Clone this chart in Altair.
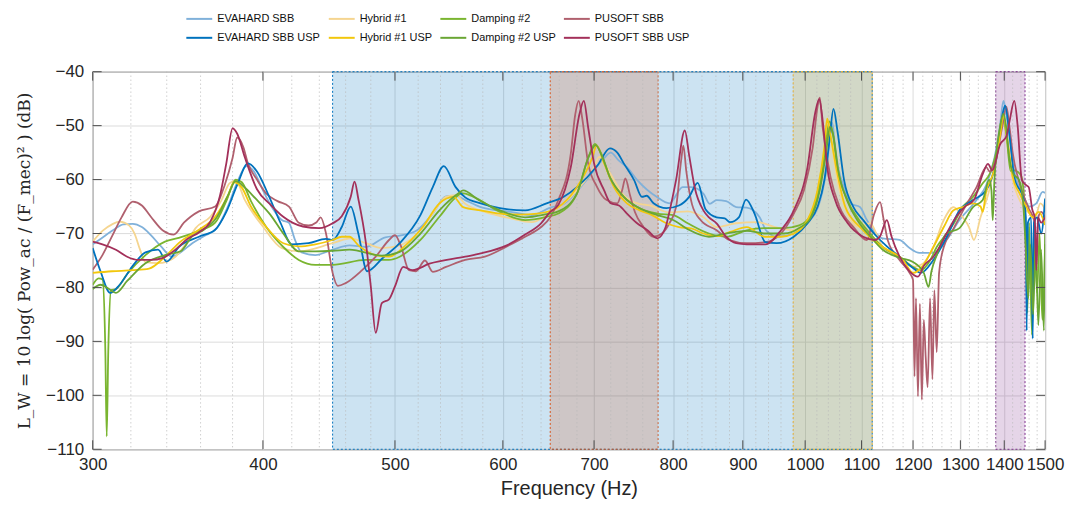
import altair as alt
import pandas as pd

# ---------------- data (frequency Hz, level dB) ----------------
EVAHARD_SBB = [(300,-72),(304,-71),(310,-69.5),(316,-68.3),(321,-68.2),(326,-68.8),(331,-70.3),(337,-72.5),(343,-74.3),(348,-73.5),(355,-71.8),(362,-70.5),(370,-69),(377,-65),(383,-60.5),(389,-57.5),(394,-58.5),(400,-62),(407,-65.5),(413,-67.5),(418,-68),(422,-71),(427,-73.5),(437,-74),(450,-73),(463,-72.2),(476,-72.5),(492,-70.7),(504,-70.4),(519,-69.4),(533,-66.3),(545,-63.1),(554,-63),(563,-63.8),(578,-65.1),(608,-66),(630,-66.6),(650,-65.2),(665,-64.5),(691,-60.1),(712,-56),(720,-55),(730,-56.5),(740,-57.7),(753,-60.1),(778,-63.2),(795,-64.4),(813,-61.4),(825,-61.4),(842,-62.6),(851,-64.5),(861,-63.8),(875,-64),(890,-65.1),(906,-65.2),(926,-67),(936,-69.4),(953,-70.6),(981,-70),(1004,-68.1),(1026,-63.8),(1038,-57),(1044,-50.9),(1047,-49.5),(1051,-53),(1058,-58),(1068,-61.4),(1080,-64.5),(1097,-65.1),(1110,-67.5),(1140,-70.9),(1173,-71.2),(1193,-72.7),(1213,-73.6),(1242,-73.6),(1270,-71.2),(1298,-67.5),(1336,-63.8),(1358,-61),(1377,-56),(1390,-50),(1398,-45.4),(1405,-48),(1412,-51),(1422,-57.7),(1447,-63.2),(1461,-65),(1478,-64.4),(1494,-62.3),(1500,-62.5)]

EVAHARD_SBB_USP = [(300,-72.7),(304,-77),(309,-81),(314,-79.5),(321,-76),(328,-73.5),(335,-73),(340,-75.2),(347,-72.5),(359,-70.6),(369,-69.3),(376,-66),(383,-61),(390,-57),(396,-58.5),(404,-63),(412,-68),(420,-72),(432,-71.8),(445,-71),(450,-71.2),(457,-68.8),(464,-65),(470,-70),(477,-77),(490,-74.5),(504,-71.8),(522,-66.6),(533,-61.4),(543,-57.5),(554,-61.4),(563,-63.3),(578,-64.4),(597,-65.3),(623,-65.7),(646,-64.4),(665,-63.2),(680,-61.4),(704,-57.4),(719,-54.2),(728,-55),(736,-57),(749,-60.1),(759,-63.2),(765,-63),(774,-64.4),(791,-65.3),(808,-64.8),(822,-63.2),(834,-60.6),(845,-65.5),(861,-67),(873,-67.2),(881,-67.9),(894,-67),(905,-63.7),(918,-66.3),(935,-71.6),(953,-71.8),(981,-70.6),(1004,-68.1),(1021,-65.1),(1033,-60.1),(1042,-52.8),(1049,-46.9),(1056,-50.9),(1068,-60.1),(1085,-65.1),(1103,-67.5),(1129,-70.6),(1146,-72.2),(1173,-74.3),(1200,-76.4),(1216,-77.3),(1242,-74.9),(1270,-70.7),(1298,-65.7),(1328,-63.8),(1358,-62),(1381,-56.4),(1398,-47.2),(1402,-46.3),(1413,-52.2),(1424,-59.6),(1447,-63.8),(1452,-67),(1454,-88),(1457,-68),(1465,-67),(1469,-89.5),(1472,-68),(1480,-67),(1490,-70),(1500,-63.5)]

HYBRID_1 = [(300,-71.5),(305,-69.5),(310,-68.3),(314,-67.8),(319,-68.5),(322,-70),(325,-73),(328,-75.3),(335,-75.5),(340,-75.2),(345,-74.3),(352,-71.5),(357,-69),(366,-66.9),(373,-63.8),(378,-60.7),(382,-60.2),(388,-63.8),(400,-68.7),(413,-72.7),(425,-73.3),(450,-71.8),(464,-70.9),(476,-71.8),(489,-72.7),(504,-72.2),(522,-69.4),(533,-66.3),(545,-63.2),(554,-62.9),(563,-64.5),(582,-66),(608,-67.2),(630,-67.9),(646,-66.6),(659,-65.2),(680,-62),(700,-57.7),(706,-55.8),(712,-57),(724,-60.1),(736,-62.9),(753,-64.4),(769,-64.8),(795,-66.1),(820,-65.9),(842,-67),(861,-68.8),(890,-68.1),(922,-67.9),(950,-68.8),(981,-69.4),(1010,-67),(1026,-60.1),(1034,-54),(1040,-49.6),(1045,-52.7),(1056,-60.1),(1074,-66.3),(1097,-68.8),(1116,-68.1),(1130,-70.5),(1140,-72.5),(1173,-74.3),(1200,-76.2),(1220,-75.6),(1242,-72.5),(1264,-67.5),(1285,-65.1),(1305,-67),(1319,-68.8),(1330,-71.2),(1345,-67),(1363,-62.6),(1383,-55),(1398,-48.5),(1408,-54),(1420,-60),(1437,-63.8),(1461,-66.3),(1475,-67),(1488,-64.4),(1500,-65.5)]

HYBRID_1_USP = [(300,-77.3),(310,-77),(321,-76.8),(330,-76.5),(339,-74.3),(348,-71.5),(359,-69.3),(369,-66.9),(377,-63),(381,-60.5),(386,-61.5),(392,-65),(402,-68.7),(414,-71.8),(425,-72.4),(437,-72),(450,-71.2),(457,-70.6),(463,-70.6),(470,-72.2),(484,-74),(495,-74.3),(509,-72.2),(524,-68.8),(539,-64.4),(552,-63.2),(561,-65.1),(578,-65.7),(597,-66.3),(617,-66.5),(636,-66.3),(657,-65.3),(680,-61.4),(698,-55.9),(703,-53.7),(712,-57),(724,-61.4),(740,-64.4),(756,-65.7),(772,-66.6),(791,-68.1),(808,-68.8),(826,-69.1),(842,-70),(861,-70.5),(881,-69.7),(906,-68.8),(934,-70.6),(960,-70.6),(981,-70),(1004,-67.5),(1021,-62),(1033,-54),(1038,-48.7),(1043,-51.4),(1056,-58.9),(1070,-65),(1097,-68.8),(1122,-71.2),(1140,-72.5),(1180,-74.9),(1200,-77.3),(1220,-76),(1242,-72.5),(1264,-68.8),(1285,-65.7),(1305,-65.1),(1328,-64.4),(1345,-65),(1350,-66),(1357,-62.6),(1376,-58.3),(1390,-52),(1398,-48.2),(1408,-53),(1420,-59.4),(1437,-62.6),(1453,-65),(1469,-67),(1484,-66),(1500,-68.4)]

DAMPING_2 = [(300,-79.5),(303,-78.3),(305,-78.5),(306.5,-92),(307.2,-107.6),(308,-92),(309.5,-80.5),(312,-80.3),(318,-77.5),(328,-74),(339,-71.5),(347,-70.8),(359,-69.5),(369,-68),(376,-64),(382,-60),(386,-60.5),(392,-64),(402,-68.7),(414,-72.5),(425,-74.9),(437,-75.8),(450,-75.8),(476,-74.9),(495,-74.9),(504,-74.3),(522,-71.2),(539,-66.9),(554,-63.3),(560,-62.5),(570,-63.1),(597,-66),(623,-67.5),(646,-66.9),(659,-66.3),(680,-62.6),(693,-56),(701,-53.4),(708,-55),(719,-59.6),(736,-63.2),(753,-65.1),(779,-66.3),(800,-66.6),(820,-68.1),(850,-70),(875,-70.6),(906,-69.4),(935,-69),(965,-69),(990,-68.5),(1010,-66.5),(1025,-61),(1035,-54),(1042,-49.2),(1048,-51.5),(1056,-57.7),(1074,-63.8),(1092,-67),(1116,-70),(1140,-72.5),(1173,-74.3),(1200,-76.2),(1216,-76.8),(1235,-75),(1249,-72.5),(1264,-70.7),(1285,-68.2),(1305,-65.1),(1328,-63.2),(1350,-60.7),(1368,-58.6),(1385,-53.5),(1395,-48.5),(1405,-51.6),(1415,-58.4),(1424,-58.3),(1440,-59.2),(1450,-66),(1456,-84.7),(1460,-68),(1467,-88.8),(1472,-70),(1480,-81),(1486,-70),(1493,-86),(1500,-72)]

DAMPING_2_USP = [(300,-80.3),(304,-79.5),(308,-80.2),(312,-81),(318,-78.8),(328,-75.5),(339,-74),(348,-73.3),(355,-70.5),(362,-69.3),(370,-67),(377,-63),(382,-60.3),(388,-61.5),(395,-63.5),(405,-66.5),(414,-70),(425,-73.3),(437,-73.3),(450,-73.2),(463,-73),(489,-74.1),(504,-73.4),(522,-70),(539,-65.7),(557,-62.5),(561,-62),(576,-63.8),(597,-65.7),(623,-67),(646,-66.4),(659,-65.9),(680,-62.6),(693,-56),(702,-53.6),(709,-55.5),(719,-59.6),(736,-63.2),(753,-65.1),(779,-66.6),(800,-67.5),(820,-69.2),(850,-70.6),(875,-70),(906,-69.5),(935,-70),(965,-70),(990,-69),(1010,-67),(1025,-62),(1036,-55),(1043,-50.2),(1049,-52),(1057,-58),(1074,-64),(1092,-67.5),(1116,-70.5),(1140,-73),(1173,-74.5),(1200,-75.3),(1222,-77.3),(1232,-79.9),(1238,-77),(1249,-74),(1270,-70),(1298,-69),(1328,-65.1),(1350,-63.8),(1365,-60),(1370,-62),(1373,-67.5),(1377,-60),(1390,-50.3),(1398,-47.8),(1404,-50),(1412,-56),(1422,-59),(1435,-60),(1445,-64),(1452,-73),(1458,-82),(1463,-72),(1470,-85),(1476,-72),(1483,-87),(1490,-73),(1497,-88),(1500,-70)]

PUSOFT_SBB = [(300,-76.7),(305,-74),(310,-70.5),(315,-67),(321,-64.1),(326,-64.8),(331,-66.9),(338,-69.5),(344,-70.2),(350,-68),(354,-66.9),(359,-65.9),(369,-65),(375,-61),(380,-56),(383,-52.2),(387,-54),(390,-57),(396,-60),(402,-62.5),(410,-64),(418,-65),(425,-68),(432,-68.5),(438,-67.9),(441,-67),(445,-70),(450,-77.3),(454,-79.7),(460,-79.2),(473,-76.8),(484,-74.3),(495,-71.2),(500,-70.3),(505,-72.3),(512,-76.8),(518,-77),(526,-75),(533,-77.1),(545,-76.2),(563,-74.9),(582,-74.3),(604,-72.4),(623,-70.6),(640,-68.8),(650,-67),(659,-63.8),(673,-55.2),(678,-48),(682,-45.4),(686,-48.5),(693,-57),(703,-61.2),(715,-63.8),(728,-64.4),(734,-62),(738,-59.8),(744,-63),(750,-66),(761,-68.8),(774,-70.6),(785,-70),(795,-68.1),(804,-65.1),(811,-56.4),(814,-53.7),(818,-58.4),(826,-64.6),(838,-67.5),(861,-69.4),(880,-71.2),(906,-71.8),(935,-71.6),(960,-70),(981,-66.3),(998,-62),(1013,-54),(1021,-46.6),(1025,-44.8),(1030,-50.3),(1044,-59.6),(1060,-65.1),(1085,-68.8),(1110,-71.2),(1124,-66.3),(1135,-64.2),(1142,-67.5),(1150,-71.3),(1173,-74.9),(1193,-77.3),(1200,-78.6),(1203,-96.5),(1206,-82),(1210,-100.2),(1214,-83),(1218,-100.8),(1222,-86),(1226,-93),(1230,-98.5),(1235,-82),(1240,-97),(1244,-80.5),(1249,-92),(1254,-77.3),(1264,-72.5),(1285,-69.1),(1310,-65.1),(1336,-61.4),(1358,-57.7),(1366,-58.5),(1380,-56.4),(1395,-50.3),(1405,-46.5),(1412,-50),(1420,-55),(1440,-61.5),(1460,-65.5),(1472,-67.5),(1478,-76),(1483,-67),(1490,-66),(1500,-67)]

PUSOFT_SBB_USP = [(300,-71.5),(305,-72),(312,-73),(318,-74.3),(324,-74.9),(331,-74.9),(338,-74.5),(345,-73),(352,-71),(359,-69.8),(366,-67.8),(372,-63),(376,-57),(380,-50.5),(383,-51.5),(388,-55.9),(396,-61.8),(405,-64.6),(414,-66.9),(428,-68.7),(440,-69),(450,-68.1),(457,-66.8),(464,-63.2),(467,-60.4),(470,-63.6),(476,-71.7),(480,-79.8),(484,-88.4),(489,-82.9),(495,-82.2),(500,-79.8),(507,-76.2),(515,-76.8),(530,-75.6),(563,-74.3),(578,-73.7),(604,-72.2),(623,-70.2),(640,-68.1),(650,-66),(659,-64.7),(673,-57.7),(683,-47.8),(688,-45.4),(693,-50.3),(700,-57),(712,-62),(720,-64.4),(730,-64.8),(740,-66.3),(752,-68),(766,-69.4),(779,-70.9),(790,-68.8),(795,-66),(804,-60.1),(816,-50.9),(822,-55.5),(830,-61.6),(842,-65.7),(850,-67),(861,-68.1),(875,-70.6),(890,-71.8),(906,-72),(935,-72),(960,-69.4),(981,-65.7),(1004,-57.7),(1017,-47.7),(1024,-45.1),(1030,-49),(1038,-57.7),(1052,-63.8),(1074,-68),(1103,-70.6),(1125,-71.2),(1135,-70.5),(1148,-67.5),(1157,-70.5),(1173,-74.3),(1193,-77),(1210,-78),(1222,-76),(1242,-74.3),(1255,-72.5),(1270,-70),(1290,-67),(1310,-65),(1330,-63.8),(1350,-59),(1362,-57.1),(1372,-58.3),(1390,-53.5),(1405,-52),(1413,-49),(1424,-45.4),(1432,-50),(1442,-60),(1452,-61),(1459,-61.4),(1468,-65.6),(1474,-67),(1478,-76.8),(1482,-67),(1490,-68),(1500,-67)]

SERIES_NAMES = ["EVAHARD SBB", "Hybrid #1", "Damping #2", "PUSOFT SBB",
                "EVAHARD SBB USP", "Hybrid #1 USP", "Damping #2 USP", "PUSOFT SBB USP"]
SERIES_DATA = [EVAHARD_SBB, HYBRID_1, DAMPING_2, PUSOFT_SBB,
               EVAHARD_SBB_USP, HYBRID_1_USP, DAMPING_2_USP, PUSOFT_SBB_USP]
SERIES_COLORS = ["#80b1da", "#f5d590", "#7ab530", "#b0606e",
                 "#0072bd", "#f2c70c", "#6aa634", "#a3305a"]
DRAW_ORDER = ["EVAHARD SBB", "EVAHARD SBB USP", "Hybrid #1", "Hybrid #1 USP",
              "Damping #2", "Damping #2 USP", "PUSOFT SBB", "PUSOFT SBB USP"]

# shaded frequency bands
BAND_START = [450, 650, 980, 1380]
BAND_END = [1120, 780, 1120, 1450]
BAND_COLOR = ["#0072bd", "#d95319", "#edb120", "#7e2f8e"]

X_TICKS = [300, 400, 500, 600, 700, 800, 900, 1000, 1100, 1200, 1300, 1400, 1500]
MINOR_TICKS = [f for f in range(320, 1500, 20) if f % 100 != 0]
Y_TICKS = [-110, -100, -90, -80, -70, -60, -50, -40]

# ---------------- build tables ----------------
rows = []
for name, pts in zip(SERIES_NAMES, SERIES_DATA):
    for i, (f, v) in enumerate(pts):
        rows.append({"series": name, "freq": f, "db": v, "idx": i,
                     "z": DRAW_ORDER.index(name)})
lines_df = pd.DataFrame(rows)
bands_df = pd.DataFrame({"freq": BAND_START, "end": BAND_END, "col": BAND_COLOR})
minor_df = pd.DataFrame({"freq": MINOR_TICKS})
xt_df = pd.DataFrame({"freq": X_TICKS})
yt_df = pd.DataFrame({"db": Y_TICKS})

W, H = 956, 379
xscale = alt.Scale(type="log", domain=[300, 1500], nice=False, zero=False)
yscale = alt.Scale(domain=[-110, -40], nice=False, zero=False)
FONT = "Liberation Sans"

XAXIS = alt.Axis(values=X_TICKS, format="d", title="Frequency (Hz)",
                 labelFontSize=17, labelFont=FONT, labelColor="#262626",
                 labelFlush=False, labelOverlap=False, labelPadding=7,
                 tickSize=0, domain=False, grid=True, gridColor="#dcdcdc",
                 titleFontSize=20, titleFont=FONT, titleFontWeight="normal",
                 titleColor="#262626", titlePadding=6)
YAXIS = alt.Axis(values=Y_TICKS, title="L_W = 10 log( Pow_ac / (F_mec)² ) (dB)",
                 labelFontSize=17, labelFont=FONT, labelColor="#262626",
                 labelPadding=9, tickSize=0, domain=False, grid=True,
                 gridColor="#dcdcdc", titleFontSize=17,
                 titleFont="DejaVu Serif", titleFontWeight="normal",
                 titleColor="#262626", titlePadding=12)

X = lambda f: alt.X(f, scale=xscale, axis=XAXIS)
Y = lambda f: alt.Y(f, scale=yscale, axis=YAXIS)

bands = alt.Chart(bands_df).mark_rect(fillOpacity=0.2, strokeOpacity=1, strokeWidth=1,
                                      strokeDash=[2, 2]).encode(
    x=X("freq:Q"),
    x2="end:Q",
    y=alt.value(0), y2=alt.value(H),
    fill=alt.Fill("col:N", scale=None),
    stroke=alt.Stroke("col:N", scale=None),
)

minor = alt.Chart(minor_df).mark_rule(color="#b9b9b9", strokeDash=[1, 3], strokeWidth=1).encode(
    x=X("freq:Q"),
    y=alt.value(0), y2=alt.value(H),
)

lines = alt.Chart(lines_df).mark_line(strokeWidth=1.8, interpolate="monotone", clip=True).encode(
    x=X("freq:Q"),
    y=Y("db:Q"),
    color=alt.Color("series:N",
                    scale=alt.Scale(domain=SERIES_NAMES, range=SERIES_COLORS),
                    legend=alt.Legend(orient="none", legendX=93, legendY=-67,
                                      direction="horizontal", columns=4, title=None,
                                      symbolType="stroke", symbolSize=676,
                                      symbolStrokeWidth=2, labelFontSize=11,
                                      labelFont=FONT,
                                      labelColor="#111111", columnPadding=4,
                                      rowPadding=0, labelOffset=4, padding=0,
                                      labelLimit=300)),
    order=alt.Order("idx:Q"),
    detail="z:Q",
)

tick_color = "#4d4d4d"
tb = alt.Chart(xt_df).mark_rule(color=tick_color).encode(
    x=X("freq:Q"), y=alt.value(H), y2=alt.value(H - 9))
tt = alt.Chart(xt_df).mark_rule(color=tick_color).encode(
    x=X("freq:Q"), y=alt.value(0), y2=alt.value(9))
tl = alt.Chart(yt_df).mark_rule(color=tick_color).encode(
    y=Y("db:Q"), x=alt.value(0), x2=alt.value(9))
tr = alt.Chart(yt_df).mark_rule(color=tick_color).encode(
    y=Y("db:Q"), x=alt.value(W - 9), x2=alt.value(W))

chart = alt.layer(bands, minor, lines, tb, tt, tl, tr).properties(
    width=W, height=H,
    autosize=alt.AutoSizeParams(type="none"),
    padding={"left": 85, "top": 63, "right": 22, "bottom": 52},
    background="white",
).configure_view(stroke="#4d4d4d", strokeWidth=1)

chart.save("out.html", embed_options={"renderer": "svg", "actions": False})
